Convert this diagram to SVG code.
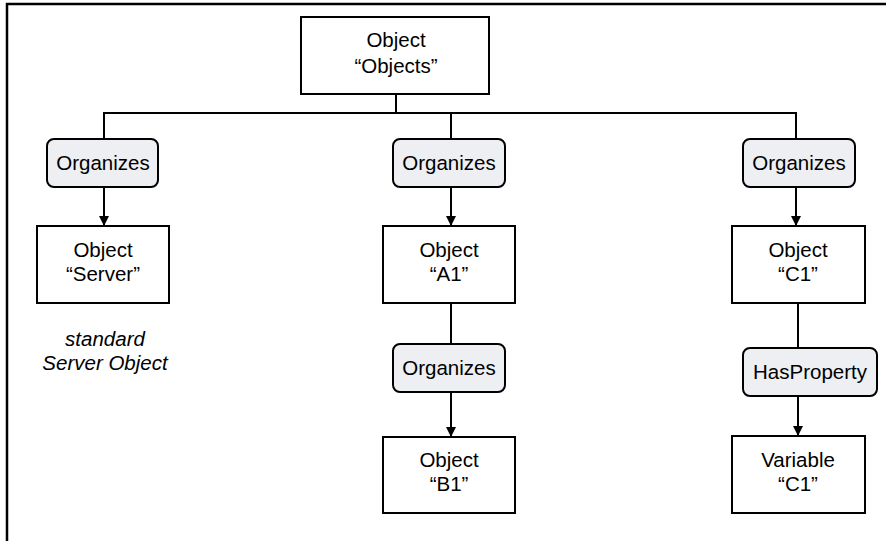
<svg xmlns="http://www.w3.org/2000/svg" width="886" height="541" viewBox="0 0 886 541">
<defs>
<style>
.box{fill:#fff;stroke:#000;stroke-width:2}
.ref{fill:#eeeff3;stroke:#000;stroke-width:2}
.t{font-family:"Liberation Sans",Arial,sans-serif;font-size:20.5px;fill:#000;text-anchor:middle}
.it{font-style:italic}
.c{fill:none;stroke:#000;stroke-width:2}
</style>
<marker id="arr" viewBox="0 0 10 10" refX="10" refY="5" markerWidth="10" markerHeight="10" markerUnits="userSpaceOnUse" orient="auto">
<path d="M0,0 L10,5 L0,10 z" fill="#000"/>
</marker>
</defs>
<rect width="886" height="541" fill="#fff"/>
<path d="M7,541 V4 H886" fill="none" stroke="#000" stroke-width="2.5"/>
<g id="connectors">
<path class="c" d="M396,94 V113" stroke-width="1.5"/>
<path class="c" d="M104,139 V113 H796 V139"/>
<path class="c" d="M451,113 V139"/>
<path class="c" d="M104,187 V226" marker-end="url(#arr)"/>
<path class="c" d="M451,187 V226" marker-end="url(#arr)"/>
<path class="c" d="M796,187 V226" marker-end="url(#arr)"/>
<path class="c" d="M451,303 V344"/>
<path class="c" d="M451,392 V437" marker-end="url(#arr)"/>
<path class="c" d="M798,303 V348"/>
<path class="c" d="M798,396 V436" marker-end="url(#arr)"/>
</g>
<g id="objects">
<rect class="box" x="301" y="17" width="188" height="77" stroke-width="1.5"/>
<text class="t" x="396" y="47">Object</text>
<text class="t" x="396" y="73">“Objects”</text>
</g>
<g id="ref1">
<rect class="ref" x="47" y="139" width="111" height="48" rx="7"/>
<text class="t" x="103" y="170">Organizes</text>
</g>
<g id="ref2">
<rect class="ref" x="393" y="139" width="112" height="48" rx="7"/>
<text class="t" x="449" y="170">Organizes</text>
</g>
<g id="ref3">
<rect class="ref" x="743" y="139" width="112" height="48" rx="7"/>
<text class="t" x="799" y="170">Organizes</text>
</g>
<g id="server">
<rect class="box" x="37" y="226" width="132" height="77"/>
<text class="t" x="103" y="257">Object</text>
<text class="t" x="103" y="281">“Server”</text>
</g>
<g id="a1">
<rect class="box" x="383" y="226" width="132" height="77"/>
<text class="t" x="449" y="257">Object</text>
<text class="t" x="449" y="281">“A1”</text>
</g>
<g id="c1">
<rect class="box" x="732" y="226" width="133" height="77"/>
<text class="t" x="798" y="257">Object</text>
<text class="t" x="798" y="281">“C1”</text>
</g>
<g id="note">
<text class="t it" x="105" y="346">standard</text>
<text class="t it" x="105" y="370">Server Object</text>
</g>
<g id="ref4">
<rect class="ref" x="393" y="344" width="112" height="48" rx="7"/>
<text class="t" x="449" y="375">Organizes</text>
</g>
<g id="ref5">
<rect class="ref" x="743" y="348" width="134" height="48" rx="7"/>
<text class="t" x="810" y="379">HasProperty</text>
</g>
<g id="b1">
<rect class="box" x="383" y="437" width="132" height="76"/>
<text class="t" x="449" y="467">Object</text>
<text class="t" x="449" y="491">“B1”</text>
</g>
<g id="varc1">
<rect class="box" x="732" y="436" width="133" height="77"/>
<text class="t" x="798" y="467">Variable</text>
<text class="t" x="798" y="491">“C1”</text>
</g>
</svg>
